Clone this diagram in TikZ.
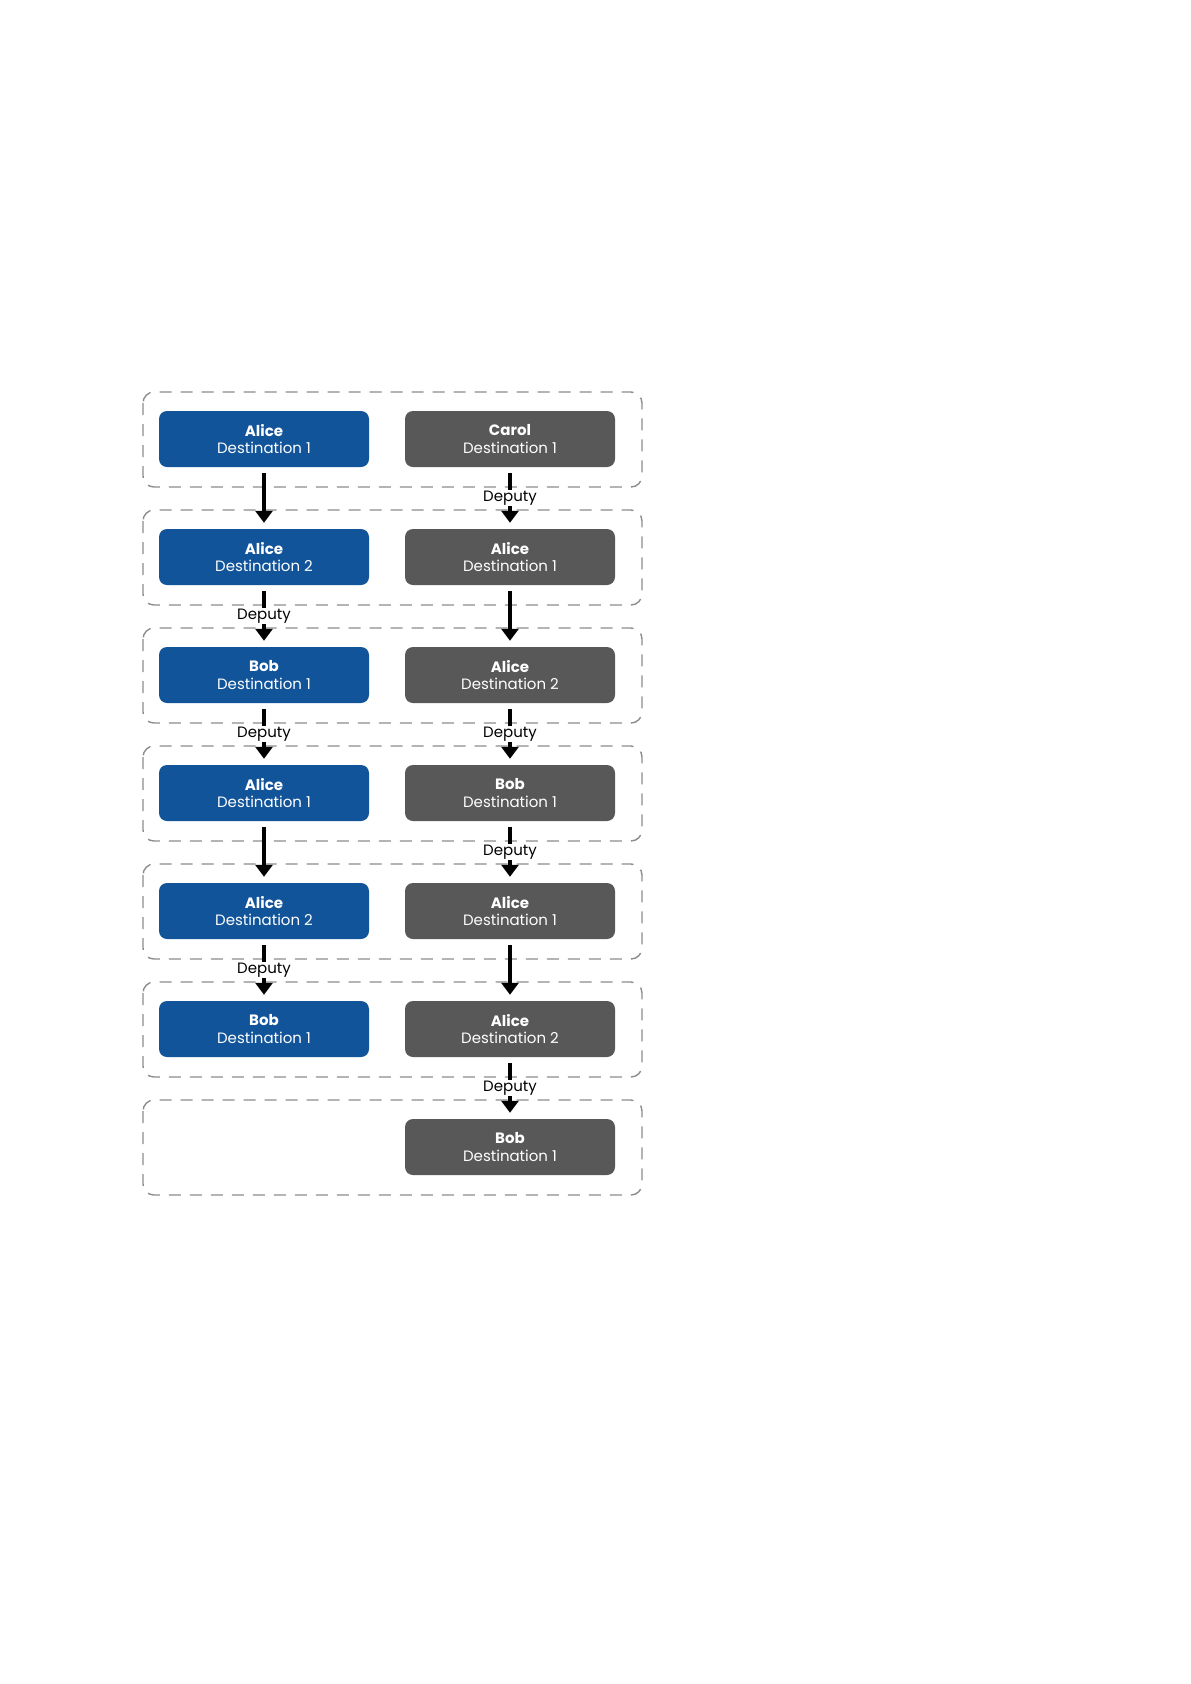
\documentclass[tikz,border=0pt]{standalone}
\usepackage{fontspec}
\setmainfont{Poppins}
\usetikzlibrary{arrows.meta}
\definecolor{boxblue}{RGB}{18,84,154}
\definecolor{boxgray}{RGB}{88,88,88}
\definecolor{dashgray}{RGB}{140,140,140}
\tikzset{
  blueblock/.style={draw=none, fill=boxblue, rounded corners=8pt, minimum width=210pt, minimum height=56pt, text=white, align=center, font=\fontsize{15}{17.5}\selectfont, inner sep=0pt},
  grayblock/.style={blueblock, fill=boxgray},
  groupbox/.style={draw=dashgray, line width=1.4pt, dash pattern=on 12pt off 9pt, rounded corners=11pt},
  flow/.style={line width=3.2pt, -{Triangle[width=17pt,length=12pt]}, shorten <=6pt, shorten >=6pt},
  deplabel/.style={fill=white, inner sep=0.5pt, font=\fontsize{15}{16}\selectfont}
}
\begin{document}
\begin{tikzpicture}[x=1pt,y=-1pt]
\useasboundingbox (0,0) rectangle (1191,1684);
% group boxes
\foreach \i in {0,...,6} {
  \draw[groupbox] (143,392+118*\i) rectangle (642,487+118*\i);
}
% left column
\node[blueblock] (l0) at (264,439) {\textbf{Alice}\\Destination 1};
\node[blueblock] (l1) at (264,557) {\textbf{Alice}\\Destination 2};
\node[blueblock] (l2) at (264,675) {\textbf{Bob}\\Destination 1};
\node[blueblock] (l3) at (264,793) {\textbf{Alice}\\Destination 1};
\node[blueblock] (l4) at (264,911) {\textbf{Alice}\\Destination 2};
\node[blueblock] (l5) at (264,1029) {\textbf{Bob}\\Destination 1};
% right column
\node[grayblock] (r0) at (510,439) {\textbf{Carol}\\Destination 1};
\node[grayblock] (r1) at (510,557) {\textbf{Alice}\\Destination 1};
\node[grayblock] (r2) at (510,675) {\textbf{Alice}\\Destination 2};
\node[grayblock] (r3) at (510,793) {\textbf{Bob}\\Destination 1};
\node[grayblock] (r4) at (510,911) {\textbf{Alice}\\Destination 1};
\node[grayblock] (r5) at (510,1029) {\textbf{Alice}\\Destination 2};
\node[grayblock] (r6) at (510,1147) {\textbf{Bob}\\Destination 1};
% left arrows
\draw[flow] (l0) -- (l1);
\draw[flow] (l1) -- node[deplabel] {Deputy} (l2);
\draw[flow] (l2) -- node[deplabel] {Deputy} (l3);
\draw[flow] (l3) -- (l4);
\draw[flow] (l4) -- node[deplabel] {Deputy} (l5);
% right arrows
\draw[flow] (r0) -- node[deplabel] {Deputy} (r1);
\draw[flow] (r1) -- (r2);
\draw[flow] (r2) -- node[deplabel] {Deputy} (r3);
\draw[flow] (r3) -- node[deplabel] {Deputy} (r4);
\draw[flow] (r4) -- (r5);
\draw[flow] (r5) -- node[deplabel] {Deputy} (r6);
\end{tikzpicture}
\end{document}
